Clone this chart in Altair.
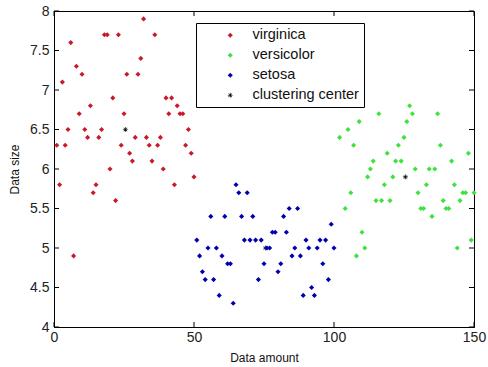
import altair as alt
import pandas as pd

# Sepal-length style values (index 1..150)
virginica = [6.3, 5.8, 7.1, 6.3, 6.5, 7.6, 4.9, 7.3, 6.7, 7.2, 6.5, 6.4, 6.8, 5.7, 5.8, 6.4, 6.5, 7.7, 7.7, 6.0,
             6.9, 5.6, 7.7, 6.3, 6.7, 7.2, 6.2, 6.1, 6.4, 7.2, 7.4, 7.9, 6.4, 6.3, 6.1, 7.7, 6.3, 6.4, 6.0, 6.9,
             6.7, 6.9, 5.8, 6.8, 6.7, 6.7, 6.3, 6.5, 6.2, 5.9]
setosa = [5.1, 4.9, 4.7, 4.6, 5.0, 5.4, 4.6, 5.0, 4.4, 4.9, 5.4, 4.8, 4.8, 4.3, 5.8, 5.7, 5.4, 5.1, 5.7, 5.1,
          5.4, 5.1, 4.6, 5.1, 4.8, 5.0, 5.0, 5.2, 5.2, 4.7, 4.8, 5.4, 5.2, 5.5, 4.9, 5.0, 5.5, 4.9, 4.4, 5.1,
          5.0, 4.5, 4.4, 5.0, 5.1, 4.8, 5.1, 4.6, 5.3, 5.0]
versicolor = [7.0, 6.4, 6.9, 5.5, 6.5, 5.7, 6.3, 4.9, 6.6, 5.2, 5.0, 5.9, 6.0, 6.1, 5.6, 6.7, 5.6, 5.8, 6.2, 5.6,
              5.9, 6.1, 6.3, 6.1, 6.4, 6.6, 6.8, 6.7, 6.0, 5.7, 5.5, 5.5, 5.8, 6.0, 5.4, 6.0, 6.7, 6.3, 5.6, 5.5,
              5.5, 6.1, 5.8, 5.0, 5.6, 5.7, 5.7, 6.2, 5.1, 5.7]
center_x = [25.5, 75.5, 125.5]
center_y = [6.5, 5.0, 5.9]

x_ticks = [0, 50, 100, 150]
y_ticks = [4, 4.5, 5, 5.5, 6, 6.5, 7, 7.5, 8]

series_names = ["virginica", "versicolor", "setosa", "clustering center"]
series_colors = ["#c81a2c", "#3ee23e", "#0000b0", "#111111"]

ASTERISK = ("M-1,-0.12L1,-0.12L1,0.12L-1,0.12Z"
            "M-0.12,-1L0.12,-1L0.12,1L-0.12,1Z"
            "M-0.615,-0.785L0.785,0.615L0.615,0.785L-0.785,-0.615Z"
            "M-0.785,0.615L0.615,-0.785L0.785,-0.615L-0.615,0.785Z")

rows = []
for i, v in enumerate(virginica):
    rows.append({"x": i + 1, "y": v, "series": "virginica"})
for i, v in enumerate(setosa):
    rows.append({"x": i + 51, "y": v, "series": "setosa"})
for i, v in enumerate(versicolor):
    rows.append({"x": i + 101, "y": v, "series": "versicolor"})
for cx, cy in zip(center_x, center_y):
    rows.append({"x": cx, "y": cy, "series": "clustering center"})
df = pd.DataFrame(rows)

W, H = 420, 316
FONT = "Liberation Sans"

xscale = alt.Scale(domain=[0, 150], nice=False, zero=False)
yscale = alt.Scale(domain=[4, 8], nice=False, zero=False)

x_axis = alt.Axis(values=x_ticks, title="Data amount", grid=False, tickSize=0,
                  labelPadding=3, labelFontSize=14, labelFont=FONT, labelColor="#222",
                  titleFont=FONT, titleFontSize=12, titleFontWeight="normal", titleColor="#111",
                  titleX=210, titleY=30, titleBaseline="middle", titleAlign="center",
                  domainColor="#000", labelFlush=False, labelOverlap=False, format="d")
y_axis = alt.Axis(values=y_ticks, title="Data size", grid=False, tickSize=0,
                  labelPadding=5, labelFontSize=14, labelFont=FONT, labelColor="#222",
                  titleFont=FONT, titleFontSize=12, titleFontWeight="normal", titleColor="#111",
                  titleAngle=270, titleX=-40, titleY=158, titleBaseline="middle",
                  titleAlign="center", domainColor="#000", labelFlush=False,
                  labelOverlap=False, format="~g")

points = alt.Chart(df).mark_point(filled=True, opacity=1).encode(
    x=alt.X("x:Q", scale=xscale, axis=x_axis),
    y=alt.Y("y:Q", scale=yscale, axis=y_axis),
    color=alt.Color("series:N", scale=alt.Scale(domain=series_names, range=series_colors),
                    legend=alt.Legend(title=None, orient="none", legendX=142, legendY=12,
                                      strokeColor="#000", fillColor="#fff", padding=5,
                                      symbolOffset=22, labelOffset=15, rowPadding=5,
                                      labelFont=FONT, labelFontSize=14.5, labelColor="#111",
                                      labelLimit=300)),
    shape=alt.Shape("series:N", scale=alt.Scale(domain=series_names,
                                                range=["diamond", "diamond", "diamond", ASTERISK])),
    size=alt.Size("series:N", scale=alt.Scale(domain=series_names, range=[26, 26, 26, 260])),
    order=alt.Order("x:Q"),
)

xt = pd.DataFrame({"v": x_ticks})
yt = pd.DataFrame({"v": y_ticks})
tick_col = "#000"
bottom_ticks = alt.Chart(xt).mark_rule(color=tick_col).encode(
    x=alt.X("v:Q", scale=xscale, axis=x_axis), y=alt.value(H), y2=alt.value(H - 5))
top_ticks = alt.Chart(xt).mark_rule(color=tick_col).encode(
    x=alt.X("v:Q", scale=xscale, axis=x_axis), y=alt.value(0), y2=alt.value(5))
left_ticks = alt.Chart(yt).mark_rule(color=tick_col).encode(
    y=alt.Y("v:Q", scale=yscale, axis=y_axis), x=alt.value(0), x2=alt.value(5))
right_ticks = alt.Chart(yt).mark_rule(color=tick_col).encode(
    y=alt.Y("v:Q", scale=yscale, axis=y_axis), x=alt.value(W), x2=alt.value(W - 5))

chart = alt.layer(points, bottom_ticks, top_ticks, left_ticks, right_ticks).properties(
    width=W, height=H,
    autosize=alt.AutoSizeParams(type="none"),
    padding={"left": 54, "top": 11, "right": 14, "bottom": 40},
    background="white",
).configure_view(stroke="#000", strokeWidth=1)

chart.save("out.html", embed_options={"renderer": "svg", "actions": False})
